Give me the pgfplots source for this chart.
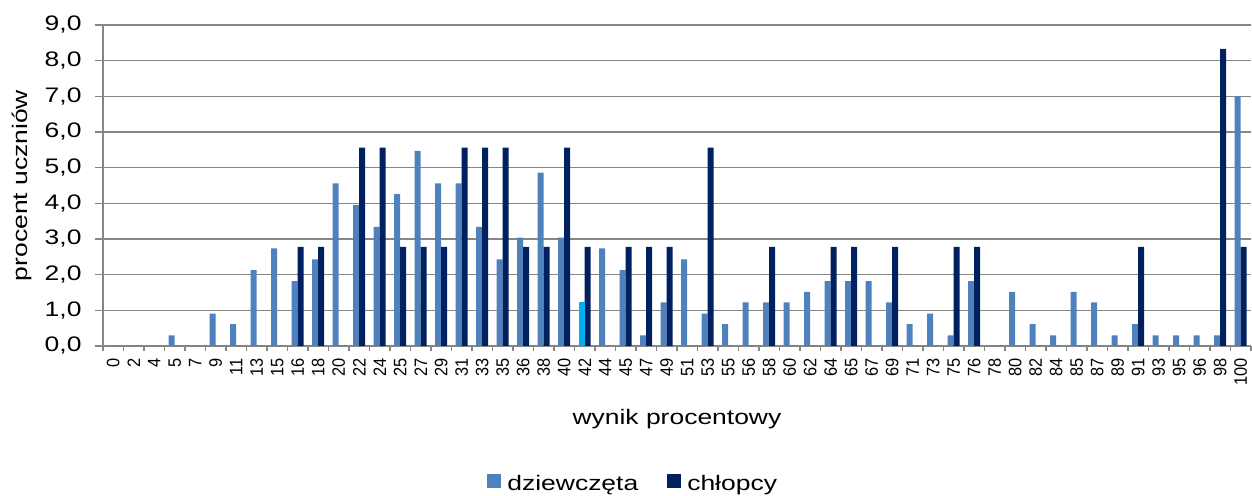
\documentclass[border=0pt]{standalone}
\usepackage{pgfplots}
\pgfplotsset{compat=1.18}
\usepackage{pgfplotstable}
\usepackage{fontspec}
\setmainfont{Liberation Sans}[FakeStretch=1.26]
\newfontfamily\xtickfont{Liberation Sans}[FakeStretch=0.91]
\definecolor{girls}{RGB}{79,129,189}
\definecolor{boys}{RGB}{0,32,96}
\definecolor{hil}{RGB}{0,176,240}
\definecolor{gridgray}{RGB}{134,134,134}

\pgfplotstableread{
idx g b
0 0 0
1 0 0
2 0 0
3 0.30 0
4 0 0
5 0.91 0
6 0.61 0
7 2.13 0
8 2.74 0
9 1.82 2.78
10 2.43 2.78
11 4.56 0
12 3.95 5.56
13 3.34 5.56
14 4.26 2.78
15 5.47 2.78
16 4.56 2.78
17 4.56 5.56
18 3.34 5.56
19 2.43 5.56
20 3.04 2.78
21 4.86 2.78
22 3.04 5.56
23 0 2.78
24 2.74 0
25 2.13 2.78
26 0.30 2.78
27 1.22 2.78
28 2.43 0
29 0.91 5.56
30 0.61 0
31 1.22 0
32 1.22 2.78
33 1.22 0
34 1.52 0
35 1.82 2.78
36 1.82 2.78
37 1.82 0
38 1.22 2.78
39 0.61 0
40 0.91 0
41 0.30 2.78
42 1.82 2.78
43 0 0
44 1.52 0
45 0.61 0
46 0.30 0
47 1.52 0
48 1.22 0
49 0.30 0
50 0.61 2.78
51 0.30 0
52 0.30 0
53 0.30 0
54 0.30 8.33
55 7.00 2.78
}\data

\pgfplotstableread{
idx g
23 1.22
}\highlight

\begin{document}
\begin{tikzpicture}[x=1pt,y=1pt]
\useasboundingbox (0,0) rectangle (1252,495);
\begin{axis}[
  at={(103pt,149pt)}, anchor=south west,
  scale only axis, width=1148pt, height=321pt,
  ybar, bar width=6pt,
  xmin=-0.5, xmax=55.5, ymin=0, ymax=9,
  ytick={0,...,9},
  xtick={-0.5,0.5,...,55.5},
  x tick label as interval,
  xticklabels={0,2,4,5,7,9,11,13,15,16,18,20,22,24,25,27,29,31,33,35,36,38,40,42,44,45,47,49,51,53,55,56,58,60,62,64,65,67,69,71,73,75,76,78,80,82,84,85,87,89,91,93,95,96,98,100},
  axis lines=left,
  axis line style={-, gridgray, line width=1.2pt},
  ymajorgrids,
  grid style={gridgray, line width=1.2pt},
  tick align=outside,
  tick style={gridgray, line width=1.2pt},
  xtick style={/pgfplots/major tick length=5pt},
  ytick style={/pgfplots/major tick length=8pt},
  /pgf/number format/assume math mode=true,
  yticklabel style={font=\fontsize{21}{25}\selectfont, inner sep=0pt, anchor=east, xshift=-17pt,
    /pgf/number format/fixed, /pgf/number format/fixed zerofill,
    /pgf/number format/precision=1, /pgf/number format/use comma},
  xticklabel style={font=\xtickfont\fontsize{18}{20}\selectfont, yshift=-8pt, rotate=90, anchor=east, inner sep=0pt},
  xlabel={wynik procentowy},
  ylabel={procent uczniów},
  every axis x label/.style={at={(rel axis cs:0.5,0)}, anchor=base, yshift=-78pt, font=\fontsize{21}{25}\selectfont},
  every axis y label/.style={at={(rel axis cs:0,0.5)}, xshift=-81.5pt, rotate=90, anchor=center, font=\fontsize{21}{25}\selectfont},
  legend columns=2,
  legend style={at={(rel axis cs:0.461,-0.4267)}, anchor=center, draw=none, fill=none,
    font=\fontsize{21}{25}\selectfont, nodes={inner sep=0pt},
    /tikz/every odd column/.append style={column sep=6pt},
    /tikz/every even column/.append style={column sep=29pt}},
  legend image code/.code={\fill[#1] (0pt,-5pt) rectangle (14pt,9pt);},
]
\addplot[fill=girls, draw=none, bar shift=-3pt] table[x=idx, y=g] {\data};
\addlegendentry{dziewczęta}
\addplot[fill=boys, draw=none, bar shift=3pt] table[x=idx, y=b] {\data};
\addlegendentry{chłopcy}
\addplot[fill=hil, draw=none, bar shift=-3pt, forget plot] table[x=idx, y=g] {\highlight};
\end{axis}
\end{tikzpicture}
\end{document}
